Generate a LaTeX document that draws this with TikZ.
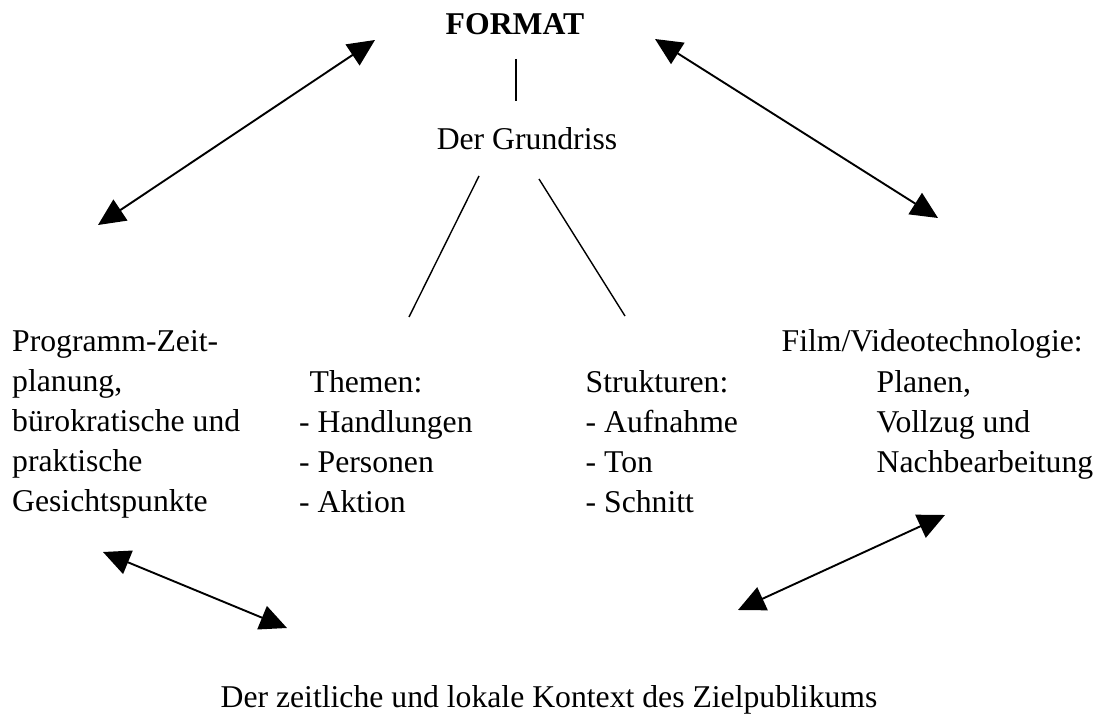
\documentclass[tikz,border=0pt]{standalone}
\usepackage{fontspec}
\setmainfont{Liberation Serif}
\usetikzlibrary{arrows.meta}
\begin{document}
\begin{tikzpicture}[x=1pt,y=-1pt,
  txt/.style={inner sep=0pt, font=\fontsize{31.7}{40}\selectfont},
  dbl/.style={line width=1.9pt, {Triangle[length=27pt,width=25pt]}-{Triangle[length=27pt,width=25pt]}},
  link/.style={line width=1.4pt}]
\useasboundingbox (0,0) rectangle (1099,714);

\node[txt, anchor=base] (format) at (515,35) {\bfseries FORMAT};
\node[txt, anchor=base] (grund) at (527,150) {Der Grundriss};

\node[txt, anchor=base west] (prog) at (12,351) {\begin{tabular}[t]{@{}l@{}}Programm-Zeit-\\planung,\\bürokratische und\\praktische\\Gesichtspunkte\end{tabular}};
\node[txt, anchor=base west] (themen) at (299,392) {\begin{tabular}[t]{@{}l@{}}\hspace*{10.5pt}Themen:\\- Handlungen\\- Personen\\- Aktion\end{tabular}};
\node[txt, anchor=base west] (strukt) at (585.5,392) {\begin{tabular}[t]{@{}l@{}}Strukturen:\\- Aufnahme\\- Ton\\- Schnitt\end{tabular}};
\node[txt, anchor=base west] (film) at (781.5,351) {Film/Videotechnologie:};
\node[txt, anchor=base west] (planen) at (876.5,392) {\begin{tabular}[t]{@{}l@{}}Planen,\\Vollzug und\\Nachbearbeitung\end{tabular}};
\node[txt, anchor=base] (kontext) at (549,707) {Der zeitliche und lokale Kontext des Zielpublikums};

% connector ends
\coordinate (v1) at (516,59);
\coordinate (v2) at (516,101);
\coordinate (l1) at (479,176);
\coordinate (l2) at (409,317);
\coordinate (r1) at (539,179);
\coordinate (r2) at (625,316);
\coordinate (a1s) at (98,225);
\coordinate (a1e) at (375,40);
\coordinate (a2s) at (655,39);
\coordinate (a2e) at (938,218);
\coordinate (a3s) at (103,552);
\coordinate (a3e) at (287,628);
\coordinate (a4s) at (738,610);
\coordinate (a4e) at (945,515);

\draw[link] (v1) -- (v2);
\draw[link] (l1) -- (l2);
\draw[link] (r1) -- (r2);
\draw[dbl] (a1s) -- (a1e);
\draw[dbl] (a2s) -- (a2e);
\draw[dbl] (a3s) -- (a3e);
\draw[dbl] (a4s) -- (a4e);
\end{tikzpicture}
\end{document}
